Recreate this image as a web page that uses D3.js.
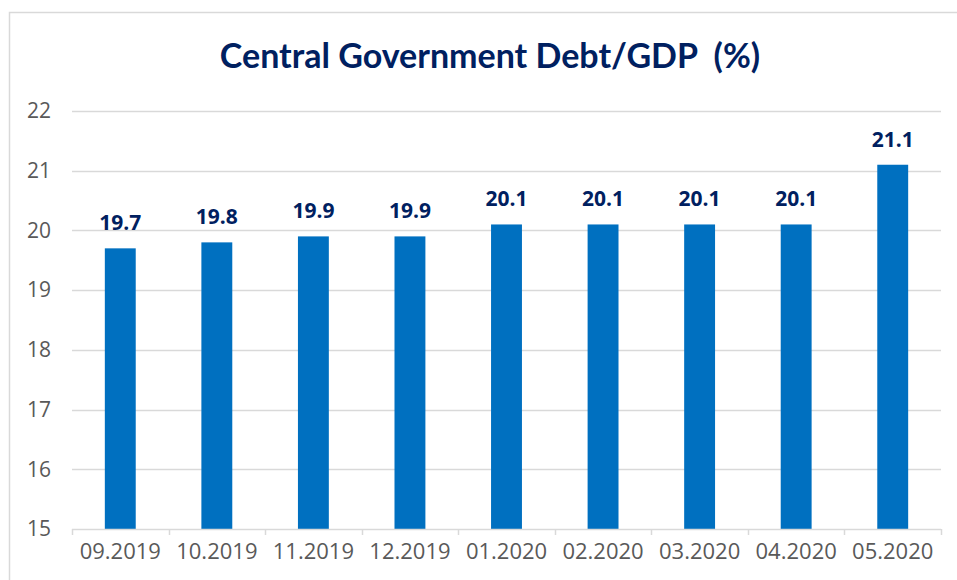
<!DOCTYPE html>
<html>
<head>
<meta charset="utf-8">
<script src="https://cdn.jsdelivr.net/npm/d3@7"></script>
<style>
  body { margin: 0; background: #fff; }
  svg { display: block; }
</style>
</head>
<body>
<div id="chart-area"></div>
<script>
const months = ["09.2019", "10.2019", "11.2019", "12.2019", "01.2020", "02.2020", "03.2020", "04.2020", "05.2020"];
const debtToGdp = [19.7, 19.8, 19.9, 19.9, 20.1, 20.1, 20.1, 20.1, 21.1];
const yTicks = [15, 16, 17, 18, 19, 20, 21, 22];

const W = 957, H = 580;
const MARGIN = { LEFT: 72, RIGHT: 16, TOP: 111, BOTTOM: 51 };
const WIDTH = W - MARGIN.LEFT - MARGIN.RIGHT;
const HEIGHT = H - MARGIN.TOP - MARGIN.BOTTOM;

const svg = d3.select("#chart-area").append("svg")
    .attr("width", W)
    .attr("height", H)

// chart border
svg.append("rect")
    .attr("x", 9.5).attr("y", 12.5)
    .attr("width", 980).attr("height", 600)
    .attr("fill", "none")
    .attr("stroke", "#d9d9d9")
    .attr("stroke-width", 1.5)

svg.append("text")
    .attr("x", 490).attr("y", 68)
    .attr("text-anchor", "middle")
    .attr("font-family", "Lato, 'Open Sans', sans-serif")
    .attr("font-weight", "bold")
    .attr("font-size", 34)
    .attr("fill", "#002060")
    .style("white-space", "pre")
    .text("Central Government Debt/GDP  (%)")

const g = svg.append("g")
    .attr("transform", `translate(${MARGIN.LEFT}, ${MARGIN.TOP})`)

const x = d3.scaleBand()
    .domain(months)
    .range([0, WIDTH])
    .paddingInner(0.68)
    .paddingOuter(0.34)

const y = d3.scaleLinear()
    .domain([15, 22])
    .range([HEIGHT, 0])

// gridlines
g.append("g")
    .selectAll("line")
    .data(yTicks.slice(1))
    .enter().append("line")
    .attr("x1", 0).attr("x2", WIDTH)
    .attr("y1", d => Math.round(y(d)) + 0.5)
    .attr("y2", d => Math.round(y(d)) + 0.5)
    .attr("stroke", "#d9d9d9")
    .attr("stroke-width", 1.3)

const yAxis = g.append("g")
    .call(d3.axisLeft(y).tickValues(yTicks).tickFormat(d3.format("d")).tickSize(0).tickPadding(21))
yAxis.select(".domain").remove()
yAxis.selectAll("text")
    .attr("font-family", "'Open Sans', sans-serif")
    .attr("font-size", 21)
    .attr("fill", "#595959")

g.selectAll("rect.bar")
    .data(debtToGdp)
    .enter().append("rect")
    .attr("class", "bar")
    .attr("x", (d, i) => x(months[i]))
    .attr("y", d => y(d))
    .attr("width", x.bandwidth())
    .attr("height", d => HEIGHT - y(d))
    .attr("fill", "#0070c0")

g.selectAll("text.label")
    .data(debtToGdp)
    .enter().append("text")
    .attr("class", "label")
    .attr("x", (d, i) => x(months[i]) + x.bandwidth() / 2)
    .attr("y", d => y(d) - 18)
    .attr("text-anchor", "middle")
    .attr("font-family", "'Open Sans', sans-serif")
    .attr("font-weight", "bold")
    .attr("font-size", 21)
    .attr("fill", "#002060")
    .text(d => d.toFixed(1))

const xAxis = g.append("g")
    .attr("transform", `translate(0, ${HEIGHT})`)
    .call(d3.axisBottom(x).tickSize(0).tickPadding(14))
xAxis.select(".domain").remove()
xAxis.selectAll("text")
    .attr("font-family", "'Open Sans', sans-serif")
    .attr("font-size", 22)
    .attr("fill", "#595959")

// baseline and category separators
xAxis.append("line")
    .attr("x1", 0).attr("x2", WIDTH)
    .attr("y1", 0.5).attr("y2", 0.5)
    .attr("stroke", "#d9d9d9")
    .attr("stroke-width", 1.5)
xAxis.selectAll("line.sep")
    .data(d3.range(months.length + 1))
    .enter().append("line")
    .attr("class", "sep")
    .attr("x1", i => Math.round(i * x.step()) + 0.5)
    .attr("x2", i => Math.round(i * x.step()) + 0.5)
    .attr("y1", 0).attr("y2", 6)
    .attr("stroke", "#d9d9d9")
    .attr("stroke-width", 1.5)
</script>
</body>
</html>
